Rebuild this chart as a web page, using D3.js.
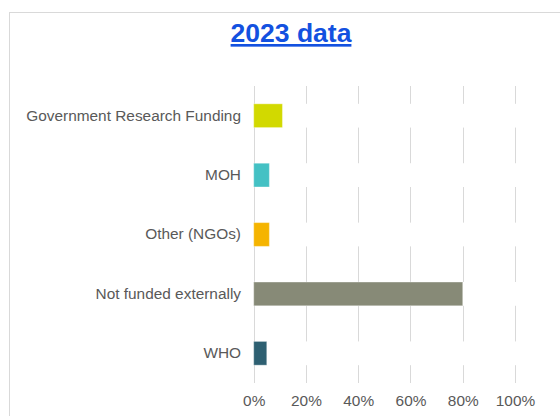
<!DOCTYPE html>
<html>
<head>
<meta charset="utf-8">
<script src="https://cdn.jsdelivr.net/npm/d3@7"></script>
<style>
  body { margin: 0; background: #fff; }
  text { font-family: "Liberation Sans", Arial, sans-serif; }
</style>
</head>
<body>
<svg id="chart" width="560" height="416"></svg>
<script>
// Data
var categories = ["Government Research Funding", "MOH", "Other (NGOs)", "Not funded externally", "WHO"];
var values     = [0.11, 0.06, 0.06, 0.80, 0.05];
var colors     = ["#d2d900", "#44c1c4", "#f5b400", "#878a77", "#2e6072"];
var ticks      = [0, 0.2, 0.4, 0.6, 0.8, 1.0];
var title      = "2023 data";

var svg = d3.select('#chart');

// Outer frame (runs off the right and bottom edges)
svg.append('rect')
  .attr('x', 9.5).attr('y', 12.5)
  .attr('width', 580).attr('height', 440)
  .attr('fill', '#fff')
  .attr('stroke', '#d9d9d9');

// Title
svg.append('text')
  .attr('x', 291).attr('y', 42)
  .attr('text-anchor', 'middle')
  .style('font-size', '26.5px')
  .style('font-weight', 'bold')
  .style('text-decoration', 'underline')
  .attr('fill', '#1351e0')
  .text(title);

// Scales
var x = d3.scaleLinear().domain([0, 1]).range([253.7, 515]);
var y = d3.scaleBand().domain(categories).range([86, 383])
  .paddingInner(0.6).paddingOuter(0.3);

// Vertical gridlines
svg.append('g')
  .selectAll('line')
  .data(ticks).enter().append('line')
  .attr('x1', (d) => Math.round(x(d)) + 0.5)
  .attr('x2', (d) => Math.round(x(d)) + 0.5)
  .attr('y1', 86).attr('y2', 383)
  .attr('stroke', '#d9d9d9')
  .attr('stroke-width', 1);

// Gridlines break behind each bar row
svg.append('g')
  .selectAll('rect')
  .data(categories).enter().append('rect')
  .attr('x', x(0) + 2)
  .attr('y', (d) => y(d))
  .attr('width', x(1) - x(0) + 10)
  .attr('height', y.bandwidth())
  .attr('fill', '#fff');

// Bars
svg.append('g')
  .selectAll('rect')
  .data(values).enter().append('rect')
  .attr('x', x(0))
  .attr('y', (d, i) => y(categories[i]))
  .attr('width', (d) => x(d) - x(0))
  .attr('height', y.bandwidth())
  .attr('fill', (d, i) => colors[i])
  .attr('stroke', 'rgba(255,255,255,0.35)')
  .attr('stroke-width', 1);

// Category labels
var yAxis = d3.axisLeft(y).tickSize(0).tickPadding(0);
svg.append('g')
  .attr('transform', 'translate(241,0)')
  .call(yAxis)
  .call((g) => g.select('.domain').remove())
  .selectAll('text')
  .attr('fill', '#595959')
  .style('font-size', '15.4px')
  .style('font-family', '"Liberation Sans", Arial, sans-serif');

// Percentage tick labels
var xAxis = d3.axisBottom(x).tickValues(ticks).tickFormat(d3.format('.0%')).tickSize(0).tickPadding(0);
svg.append('g')
  .attr('transform', 'translate(0,395)')
  .call(xAxis)
  .call((g) => g.select('.domain').remove())
  .selectAll('text')
  .attr('fill', '#595959')
  .style('font-size', '15.4px')
  .style('font-family', '"Liberation Sans", Arial, sans-serif');
</script>
</body>
</html>
